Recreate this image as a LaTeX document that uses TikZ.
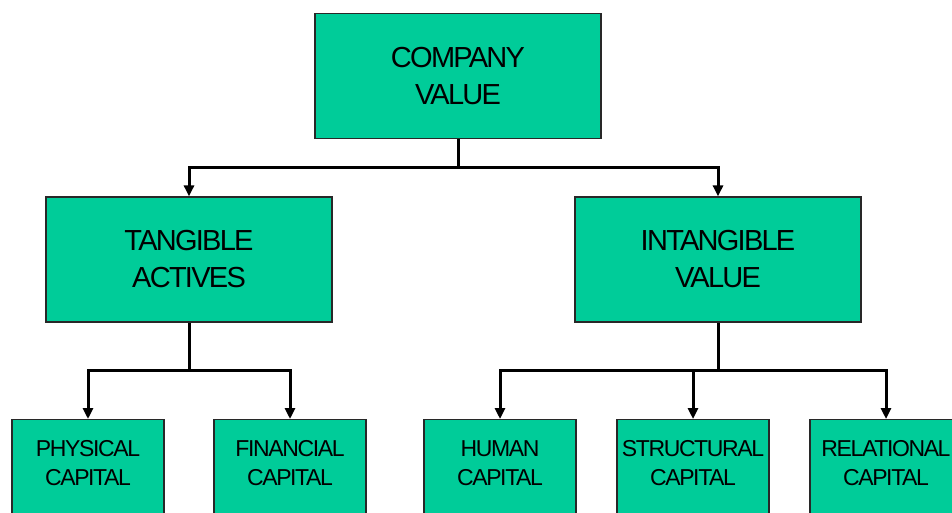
\documentclass[tikz,border=0pt]{standalone}
\usepackage{fontspec}
\setmainfont{Liberation Sans}
\usetikzlibrary{arrows.meta,calc}

\definecolor{boxgreen}{RGB}{0,204,153}
\definecolor{boxedge}{RGB}{40,40,40}

\tikzset{
  box/.style={draw=boxedge, line width=1.2pt, fill=boxgreen, rectangle,
    inner sep=0pt},
  bigbox/.style={box, minimum width=286pt, minimum height=125pt,
    align=center, font=\fontsize{29}{37}\selectfont\addfontfeature{LetterSpace=-6}},
  leafbox/.style={box, minimum width=152pt, minimum height=125pt, anchor=north},
  leaftext/.style={align=center, inner sep=0pt,
    font=\fontsize{23}{29}\selectfont\addfontfeature{LetterSpace=-6}},
  conn/.style={line width=3pt, -{Triangle[width=10pt,length=11pt]}},
  plain/.style={line width=3pt}
}

\begin{document}
\begin{tikzpicture}[x=1pt,y=-1pt]
  \useasboundingbox (0,0) rectangle (952,512);
  \clip (0,0) rectangle (952,512);

  % upper levels
  \node[bigbox] (comp)   at (458,76)    {COMPANY\\VALUE};
  \node[bigbox] (tang)   at (189,259.5) {TANGIBLE\\ACTIVES};
  \node[bigbox] (intang) at (718,259.5) {INTANGIBLE\\VALUE};

  % bottom level (boxes run past the lower edge)
  \node[leafbox] (phys)   at (88,419)  {};
  \node[leafbox] (fin)    at (290,419) {};
  \node[leafbox] (human)  at (500,419) {};
  \node[leafbox] (struct) at (693,419) {};
  \node[leafbox] (rel)    at (886,419) {};

  \node[leaftext] (physT)   at (88,463)  {PHYSICAL\\CAPITAL};
  \node[leaftext] (finT)    at (290,463) {FINANCIAL\\CAPITAL};
  \node[leaftext] (humanT)  at (500,463) {HUMAN\\CAPITAL};
  \node[leaftext] (structT) at (693,463) {STRUCTURAL\\CAPITAL};
  \node[leaftext] (relT)    at (886,463) {RELATIONAL\\CAPITAL};

  % junction points halfway between levels
  \coordinate (j1) at ($(comp.south)!.5!(comp.south |- tang.north)$);
  \coordinate (j2) at ($(tang.south)!.5!(tang.south |- phys.north)$);
  \coordinate (j3) at ($(intang.south)!.5!(intang.south |- human.north)$);

  % connectors
  \draw[plain] (comp.south) -- (j1);
  \draw[conn] (j1) -| (tang.north);
  \draw[conn] (j1) -| (intang.north);

  \draw[plain] (tang.south) -- (j2);
  \draw[conn] (j2) -| (phys.north);
  \draw[conn] (j2) -| (fin.north);

  \draw[plain] (intang.south) -- (j3);
  \draw[conn] (j3) -| (human.north);
  \draw[conn] (j3) -| (struct.north);
  \draw[conn] (j3) -| (rel.north);
\end{tikzpicture}
\end{document}
